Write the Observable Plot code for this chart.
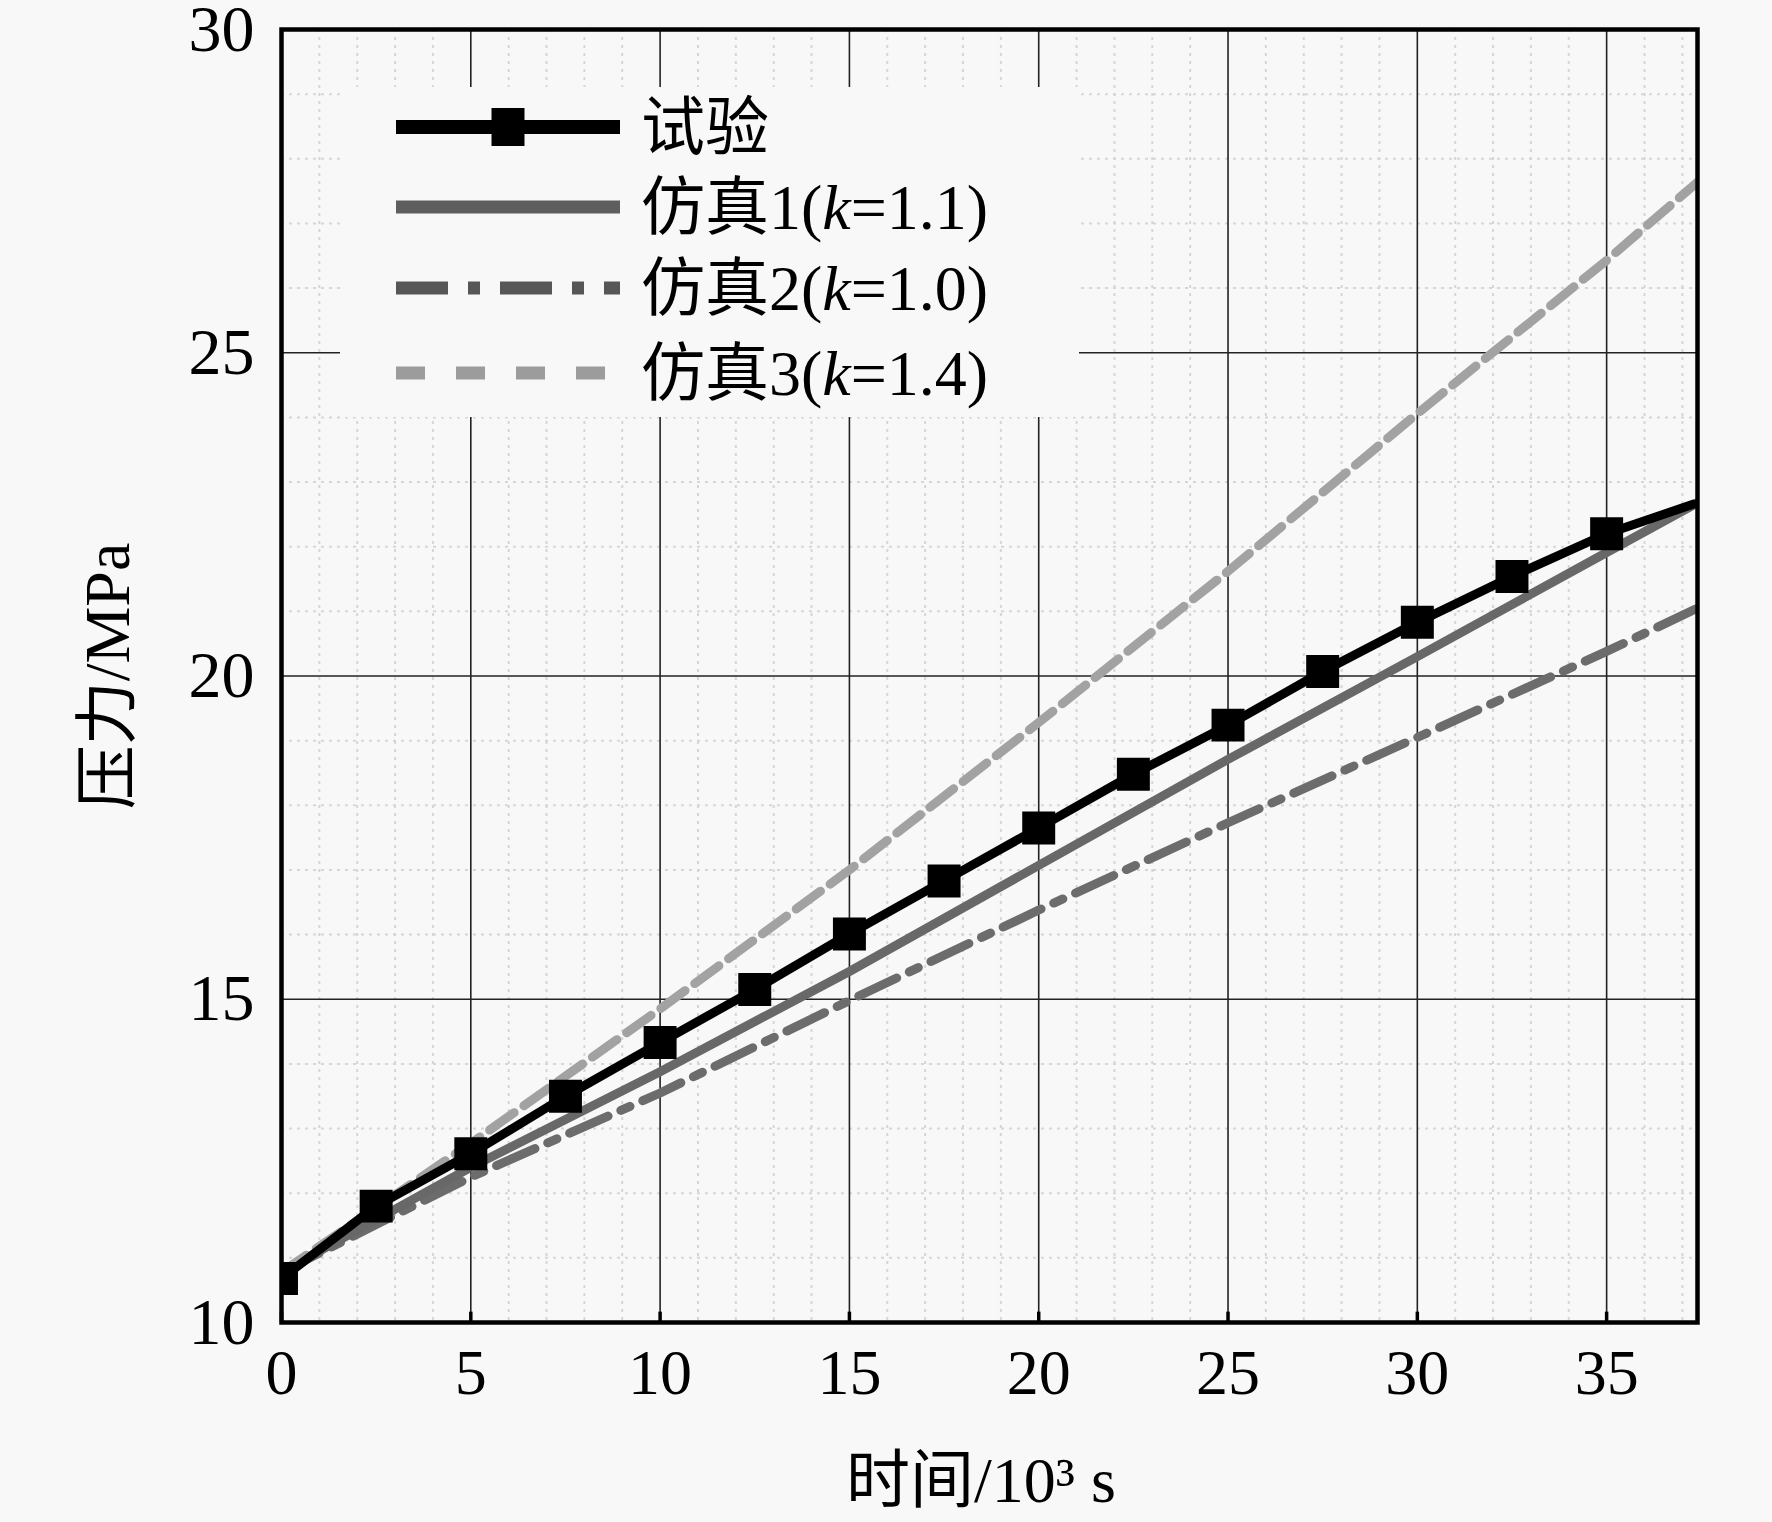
<!DOCTYPE html>
<html><head><meta charset="utf-8">
<script src="https://cdn.jsdelivr.net/npm/d3@7"></script>
<script src="https://cdn.jsdelivr.net/npm/@observablehq/plot@0.6"></script>
<style>html,body{margin:0;padding:0;background:#f8f8f8;overflow:hidden}</style>
</head><body><div id="chart"></div>
<script>
// ---- data (time in 10^3 s, pressure in MPa) ----
const testTime     = [0, 2.5, 5, 7.5, 10, 12.5, 15, 17.5, 20, 22.5, 25, 27.5, 30, 32.5, 35, 37.3];
const testPressure = [10.68, 11.80, 12.61, 13.50, 14.33, 15.15, 16.01, 16.83, 17.65, 18.48, 19.24, 20.07, 20.83, 21.54, 22.20, 22.66];
const markerCount = 15; // markers at 0..35 every 2.5

const simTime  = [0, 5, 10, 15, 20, 25, 30, 35, 37.4];
const sim1     = [10.78, 12.40, 13.88, 15.43, 17.07, 18.71, 20.30, 21.91, 22.68];
const sim2     = [10.78, 12.25, 13.55, 14.98, 16.38, 17.73, 19.05, 20.38, 21.05];
const sim3     = [10.78, 12.77, 14.85, 17.00, 19.28, 21.62, 24.06, 26.43, 27.64];

const xTicks = [0, 5, 10, 15, 20, 25, 30, 35];
const yTicks = [10, 15, 20, 25, 30];
const legendLabels = ["试验", "仿真1(k=1.1)", "仿真2(k=1.0)", "仿真3(k=1.4)"];
const xLabel = "时间/10³ s";
const yLabel = "压力/MPa";

// ---- tables ----
const testRows = testTime.map((t, i) => ({t, p: testPressure[i]}));
const markerRows = testRows.slice(0, markerCount);
const simRows = (vals) => simTime.map((t, i) => ({t, p: vals[i]}));

const BG = "#f8f8f8";
const FONT = "'Liberation Serif', 'Times New Roman', 'Noto Sans CJK SC', serif";
const minorX = d3.range(1, 38, 1).filter(v => v % 5 !== 0);
const minorY = d3.range(11, 30, 1).filter(v => v % 5 !== 0);

const chart = Plot.plot({
  width: 1772, height: 1522,
  marginLeft: 281, marginRight: 75, marginTop: 29, marginBottom: 200,
  x: {domain: [0, 37.4]},
  y: {domain: [10, 30]},
  style: {background: BG, fontFamily: FONT, fontSize: "64px", color: "#000"},
  marks: [
    Plot.gridX(minorX, {stroke: "#d6d6d6", strokeOpacity: 1, strokeWidth: 2, strokeDasharray: "3,5"}),
    Plot.gridY(minorY, {stroke: "#d6d6d6", strokeOpacity: 1, strokeWidth: 2, strokeDasharray: "3,5"}),
    Plot.gridX(xTicks.filter(v => v > 0), {stroke: "#222", strokeOpacity: 1, strokeWidth: 1.6}),
    Plot.gridY(yTicks.filter(v => v > 10 && v < 30), {stroke: "#222", strokeOpacity: 1, strokeWidth: 1.6}),
    Plot.ruleX(xTicks, {y1: 10, y2: 10.16, stroke: "#000", strokeWidth: 3.5}),
    Plot.line(simRows(sim2), {x: "t", y: "p", stroke: "#6c6c6c", strokeWidth: 9, strokeDasharray: "42,14,10,14", clip: "frame"}),
    Plot.line(simRows(sim1), {x: "t", y: "p", stroke: "#686868", strokeWidth: 9, clip: "frame"}),
    Plot.line(simRows(sim3), {x: "t", y: "p", stroke: "#a2a2a2", strokeWidth: 9, strokeDasharray: "30,12", clip: "frame"}),
    Plot.line(testRows, {x: "t", y: "p", stroke: "#000", strokeWidth: 9, clip: "frame"}),
    Plot.dot(markerRows, {x: "t", y: "p", symbol: "square", r: 18.6, fill: "#000", stroke: "none", clip: "frame"}),
    Plot.frame({stroke: "#000", strokeWidth: 4.5}),
    Plot.axisX(xTicks, {tickSize: 0, tickPadding: 26, fontSize: 64, tickFormat: d3.format("d"), label: null}),
    Plot.axisY(yTicks, {tickSize: 0, tickPadding: 27, fontSize: 66, tickFormat: d3.format("d"), label: null})
  ]
});
document.getElementById("chart").appendChild(chart);

const svg = d3.select(chart);

// ---- axis titles ----
svg.append("text").attr("transform", "translate(107,676) rotate(-90)")
  .attr("text-anchor", "middle").attr("dy", "0.35em")
  .attr("font-size", 64).attr("font-family", FONT).attr("fill", "#000").text(yLabel);
svg.append("text").attr("x", 981).attr("y", 1480)
  .attr("text-anchor", "middle").attr("dy", "0.35em")
  .attr("font-size", 64).attr("font-family", FONT).attr("fill", "#000").text(xLabel);

// ---- legend (drawn into the plot svg) ----
const lg = svg.append("g").attr("class", "legend").attr("text-anchor", "start");
lg.append("rect").attr("x", 340).attr("y", 87).attr("width", 739).attr("height", 330).attr("fill", BG);
const rowsY = [127, 207, 288, 373];
const styles = [
  {stroke: "#000", w: 14, dash: null},
  {stroke: "#5e5e5e", w: 13, dash: null},
  {stroke: "#565656", w: 13, dash: "52,20,12,20"},
  {stroke: "#9c9c9c", w: 13, dash: "29,31"}
];
legendLabels.forEach((lab, i) => {
  const s = styles[i];
  const ln = lg.append("line").attr("x1", 396).attr("x2", 620).attr("y1", rowsY[i]).attr("y2", rowsY[i])
    .attr("stroke", s.stroke).attr("stroke-width", s.w);
  if (s.dash) ln.attr("stroke-dasharray", s.dash);
  if (i === 0) lg.append("rect").attr("x", 508 - 16.5).attr("y", rowsY[i] - 19).attr("width", 33).attr("height", 38).attr("fill", "#000");
  const tx = lg.append("text").attr("x", 641).attr("y", rowsY[i]).attr("dy", "0.35em")
    .attr("text-anchor", "start")
    .attr("font-size", 64).attr("font-family", FONT).attr("fill", "#000");
  const k = lab.indexOf("k");
  if (k < 0) tx.text(lab);
  else {
    tx.append("tspan").text(lab.slice(0, k));
    tx.append("tspan").attr("font-style", "italic").text("k");
    tx.append("tspan").text(lab.slice(k + 1));
  }
});
</script></body></html>
